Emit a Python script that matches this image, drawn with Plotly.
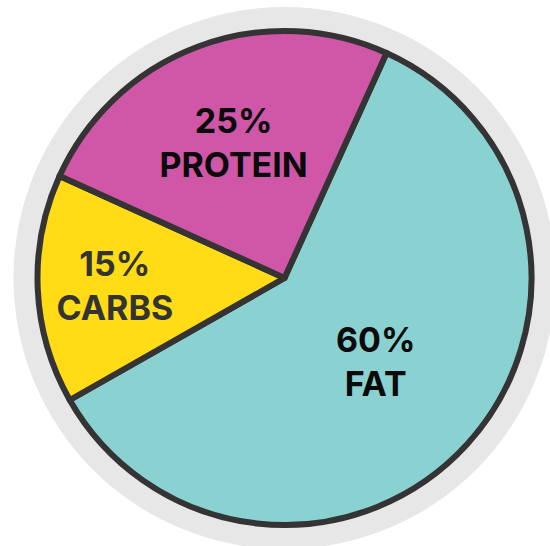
import plotly.graph_objects as go

labels = ["FAT", "CARBS", "PROTEIN"]
values = [60, 15, 25]
colors = ["#8AD2D2", "#FFDC15", "#D056A8"]
text_colors = ["#0A0A0A", "#333333", "#0A0A0A"]

W, H = 550, 546
cx, cy, r = 284.5, 278, 247
rg = 271
fs = 34

fig = go.Figure(go.Pie(
    labels=labels,
    values=values,
    sort=False,
    direction="clockwise",
    rotation=24.4,
    marker=dict(colors=colors, line=dict(color="#353334", width=6)),
    texttemplate="%{percent:.0%}<br>%{label}",
    textposition="inside",
    insidetextorientation="horizontal",
    textfont=dict(family="Inter", size=fs, weight=750, color=text_colors),
    showlegend=False,
    hoverinfo="skip",
    domain=dict(x=[(cx - r) / W, (cx + r) / W], y=[(H - cy - r) / H, (H - cy + r) / H]),
))

fig.add_shape(type="circle", xref="paper", yref="paper",
              x0=(cx - rg) / W, x1=(cx + rg) / W,
              y0=(H - cy - rg) / H, y1=(H - cy + rg) / H,
              fillcolor="#E7E7E7", line=dict(width=0), layer="below")

fig.update_layout(width=W, height=H, margin=dict(l=0, r=0, t=0, b=0),
                  paper_bgcolor="white", plot_bgcolor="white",
                  uniformtext=dict(minsize=fs, mode="show"))

fig.write_html("out.html")
